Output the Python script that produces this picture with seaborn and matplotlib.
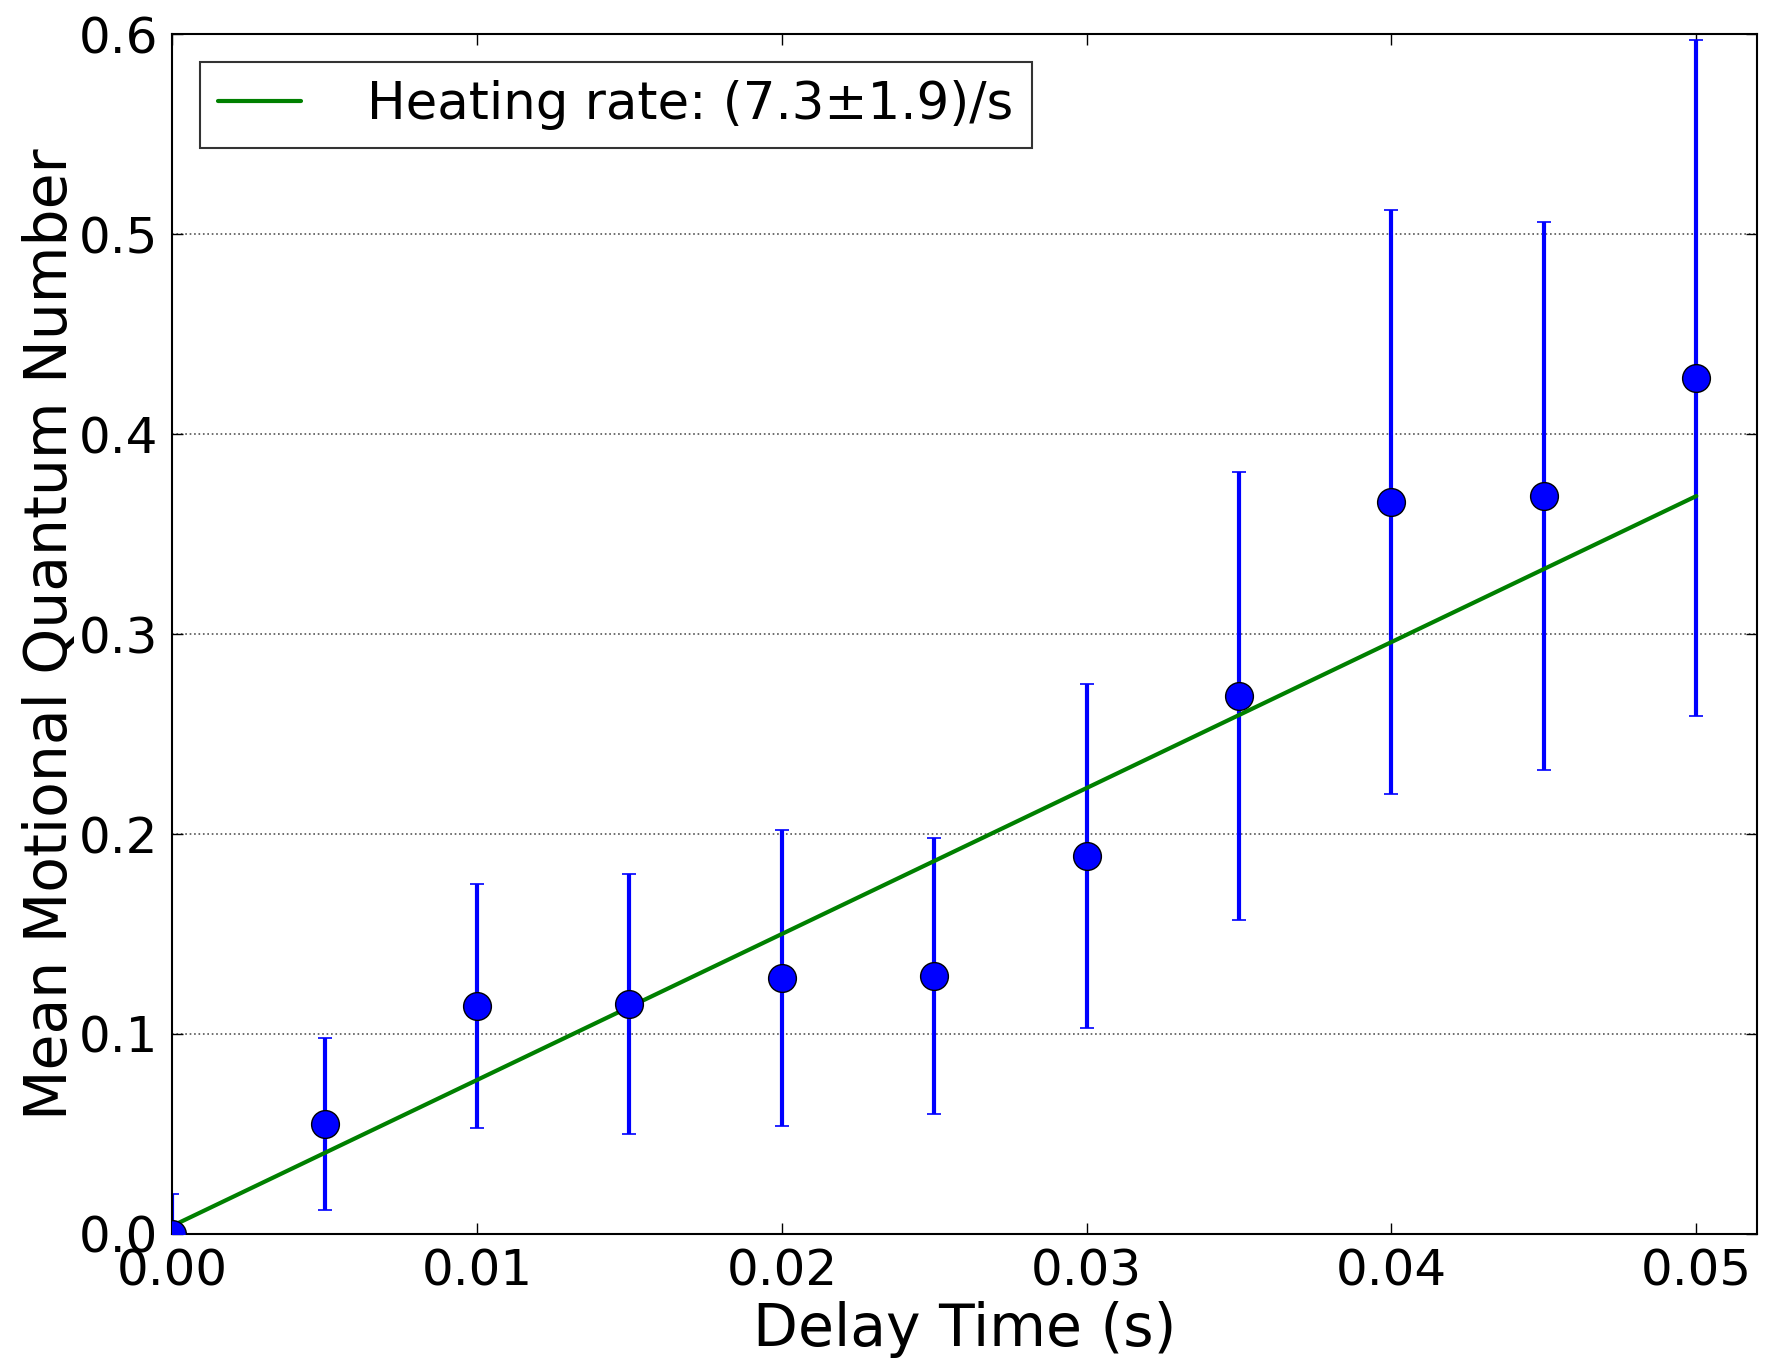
import numpy as np
import pandas as pd
import seaborn as sns
import matplotlib.pyplot as plt

# measured mean motional quantum number vs delay time
delay = [0.000, 0.005, 0.010, 0.015, 0.020, 0.025, 0.030, 0.035, 0.040, 0.045, 0.050]
nbar = [0.000, 0.055, 0.114, 0.115, 0.128, 0.129, 0.189, 0.269, 0.366, 0.369, 0.428]
nbar_err = [0.020, 0.043, 0.061, 0.065, 0.074, 0.069, 0.086, 0.112, 0.146, 0.137, 0.169]

# linear fit parameters
rate = 7.3
rate_err = 1.9
offset = 0.004

sns.set_style("ticks")
plt.rcParams['font.family'] = ['DejaVu Sans']
plt.rcParams['text.color'] = 'black'
plt.rcParams['axes.labelcolor'] = 'black'
plt.rcParams['xtick.color'] = 'black'
plt.rcParams['ytick.color'] = 'black'

df = pd.DataFrame({'delay': delay, 'nbar': nbar, 'err': nbar_err})
fit_x = np.array([delay[0], delay[-1]])
fit = pd.DataFrame({'delay': fit_x, 'nbar': offset + rate * fit_x})

fig = plt.figure(figsize=(17.75, 13.65), dpi=100)
ax = fig.add_axes([0.097, 0.096, 0.893, 0.879])

ax.errorbar(df.delay, df.nbar, yerr=df.err, fmt='none', ecolor='#0000ff',
            elinewidth=3, capsize=5, capthick=1.2, zorder=2)
sns.lineplot(data=fit, x='delay', y='nbar', ax=ax, color='#008000', lw=3,
             label=f'Heating rate: ({rate}\u00b1{rate_err})/s', zorder=3)
sns.scatterplot(data=df, x='delay', y='nbar', ax=ax, color='#0000ff', s=400,
                edgecolor='black', linewidth=1, zorder=4)

ax.set_xlim(0, 0.052)
ax.set_ylim(0, 0.6)
ax.set_xticks([0.00, 0.01, 0.02, 0.03, 0.04, 0.05])
ax.set_xticklabels(['0.00', '0.01', '0.02', '0.03', '0.04', '0.05'])
ax.set_yticks([0.0, 0.1, 0.2, 0.3, 0.4, 0.5, 0.6])
ax.set_yticklabels(['0.0', '0.1', '0.2', '0.3', '0.4', '0.5', '0.6'])
ax.tick_params(direction='in', length=8, width=1, labelsize=36, pad=10,
               top=True, right=True)
ax.yaxis.grid(True, linestyle=':', color='#555555', lw=1.2)
for sp in ax.spines.values():
    sp.set_linewidth(1.5)
    sp.set_color('black')

ax.set_xlabel('Delay Time (s)', fontsize=42, labelpad=4)
ax.set_ylabel('Mean Motional Quantum Number', fontsize=42, labelpad=0)

leg = ax.legend(loc='upper left', fontsize=37, frameon=True, fancybox=False,
                edgecolor='black', borderpad=0.35, handlelength=1.6,
                handletextpad=1.3, borderaxespad=0.55)
leg.get_frame().set_linewidth(1.5)

fig.savefig('out.png', dpi=100)
